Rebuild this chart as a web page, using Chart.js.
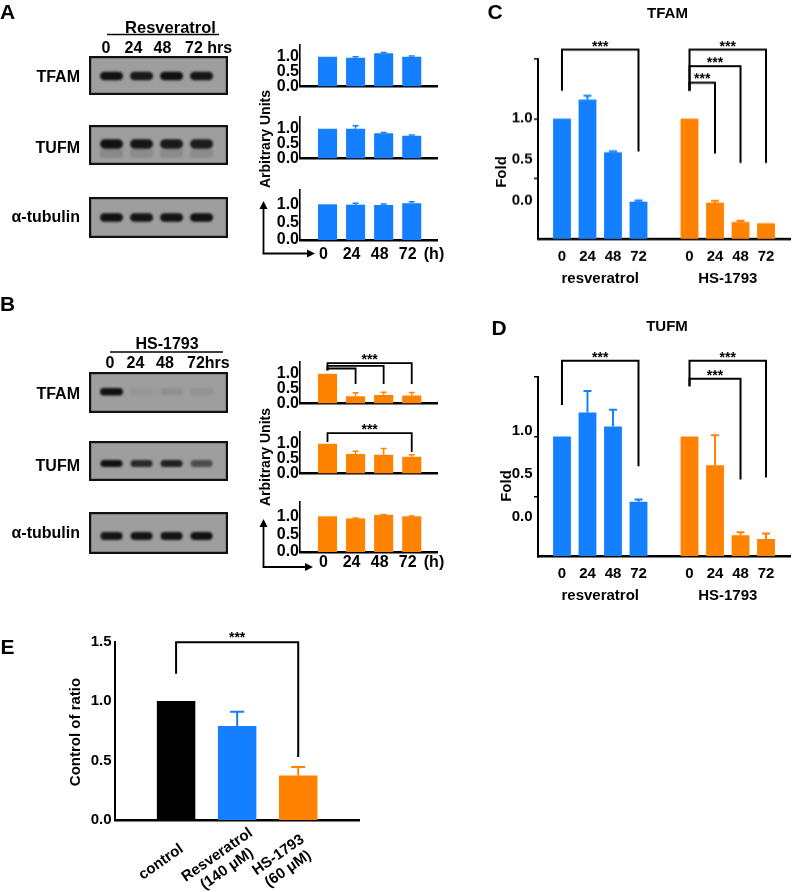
<!DOCTYPE html>
<html>
<head>
<meta charset="utf-8">
<script src="https://cdn.jsdelivr.net/npm/chart.js@4.4.1/dist/chart.umd.min.js"></script>
<style>
  html, body { margin: 0; padding: 0; background: #fff; }
  #fig { position: relative; width: 795px; height: 892px; overflow: hidden;
         font-family: "Liberation Sans", Arial, sans-serif; font-weight: bold; color: #000; }
  #fig canvas { position: absolute; }
  .t { position: absolute; white-space: nowrap; line-height: 1; }
  #lines { position: absolute; left: 0; top: 0; }
</style>
</head>
<body>
<div id="fig">
  <svg id="lines" width="795" height="892"></svg>
</div>
<script>
const FONT = '"Liberation Sans", Arial, sans-serif';
const BLUE = '#1580ff';
const ORANGE = '#ff8200';

// time points (h)
const hours = ['0', '24', '48', '72'];

// A - resveratrol, blot quantification (arbitrary units)
const resTfamAU = [1.0, 0.97, 1.12, 1.0];
const resTfamAUErr = [0, 0.03, 0.03, 0.03];
const resTufmAU = [1.0, 1.0, 0.85, 0.77];
const resTufmAUErr = [0, 0.1, 0.03, 0.02];
const resTubAU = [1.0, 0.99, 0.98, 1.03];
const resTubAUErr = [0, 0.04, 0.03, 0.04];

// B - HS-1793, blot quantification
const hsTfamAU = [1.0, 0.24, 0.28, 0.27];
const hsTfamAUErr = [0, 0.12, 0.1, 0.1];
const hsTufmAU = [1.0, 0.66, 0.63, 0.56];
const hsTufmAUErr = [0, 0.09, 0.21, 0.07];
const hsTubAU = [1.0, 0.94, 1.04, 1.0];
const hsTubAUErr = [0, 0.01, 0.01, 0.01];

// blot band intensities (0..1)
const resTfamBand = [0.95, 0.9, 0.97, 0.92];
const resTufmBand = [0.95, 0.92, 0.9, 0.88];
const resTubBand = [0.95, 0.92, 0.93, 0.95];
const hsTfamBand = [0.95, 0.05, 0.09, 0.08];
const hsTufmBand = [0.95, 0.8, 0.85, 0.55];
const hsTubBand = [0.92, 0.92, 0.93, 0.95];

const smallTicks = [0, 0.5, 1.0];

// C - TFAM fold
const groups = ['resveratrol', 'HS-1793'];
const tfamRes = [1.0, 1.16, 0.72, 0.31];
const tfamResErr = [0, 0.03, 0.01, 0.01];
const tfamHs = [1.0, 0.3, 0.14, 0.13];
const tfamHsErr = [0, 0.015, 0.01, 0];
const tfamTickText = ['1.0', '0.5', '0.0'];
const tfamTickAt = [1.0, 0.66, 0.315];

// D - TUFM fold
const tufmRes = [1.0, 1.2, 1.085, 0.455];
const tufmResErr = [0, 0.18, 0.14, 0.02];
const tufmHs = [1.0, 0.76, 0.175, 0.145];
const tufmHsErr = [0, 0.25, 0.025, 0.045];
const tufmTickText = ['1.0', '0.5', '0.0'];
const tufmTickAt = [1.05, 0.69, 0.33];
const foldAxisTicks = [0.5, 1.0, 1.5];

// E - control of ratio
const eCats = [['control'], ['Resveratrol', '(140 μM)'], ['HS-1793', '(60 μM)']];
const eRatio = [1.0, 0.79, 0.375];
const eRatioErr = [0, 0.12, 0.07];
const eColors = ['#000000', BLUE, ORANGE];
const eYTicks = [0, 0.5, 1.0, 1.5];

const fig = document.getElementById('fig');
const svg = document.getElementById('lines');
Chart.defaults.font.family = FONT;
Chart.defaults.font.weight = 'bold';
Chart.defaults.color = '#000';

function addCanvas(left, top, w, h) {
    const c = document.createElement('canvas');
    c.width = w; c.height = h;
    c.style.left = left + 'px';
    c.style.top = top + 'px';
    c.style.width = w + 'px';
    c.style.height = h + 'px';
    fig.insertBefore(c, svg);
    return c;
}

function label(str, x, y, size, opt = {}) {
    const d = document.createElement('div');
    d.className = 't';
    d.textContent = str;
    d.style.fontSize = size + 'px';
    d.style.left = x + 'px';
    d.style.top = y + 'px';
    const ax = opt.align === 'right' ? '-100%' : opt.align === 'left' ? '0' : '-50%';
    d.style.transform = `translate(${ax}, -50%)` + (opt.rot ? ` rotate(${opt.rot}deg)` : '');
    fig.appendChild(d);
}

function svgEl(tag, attrs) {
    const e = document.createElementNS('http://www.w3.org/2000/svg', tag);
    for (const k in attrs) e.setAttribute(k, attrs[k]);
    svg.appendChild(e);
}
function line(x1, y1, x2, y2, w = 1.6) {
    svgEl('line', { x1, y1, x2, y2, stroke: '#000', 'stroke-width': w });
}
function arrow(cx, cy, tipY, tipX) {
    line(cx, cy, cx, tipY + 7, 1.8);
    line(cx - 0.9, cy, tipX - 7, cy, 1.8);
    svgEl('polygon', { points: `${cx},${tipY} ${cx - 4},${tipY + 8} ${cx + 4},${tipY + 8}`, fill: '#000' });
    svgEl('polygon', { points: `${tipX},${cy} ${tipX - 8},${cy - 4} ${tipX - 8},${cy + 4}`, fill: '#000' });
}

// ---- plugins ----
const errorBars = {
    id: 'errorBars',
    afterDatasetsDraw(chart, args, opts) {
        const { ctx } = chart;
        const y = chart.scales.y;
        chart.data.datasets.forEach((ds, di) => {
            if (!ds.errors) return;
            const meta = chart.getDatasetMeta(di);
            meta.data.forEach((bar, i) => {
                const err = ds.errors[i];
                if (!err) return;
                const yTop = y.getPixelForValue(ds.data[i].y + err);
                const col = Array.isArray(ds.backgroundColor) ? ds.backgroundColor[i] : ds.backgroundColor;
                ctx.save();
                ctx.strokeStyle = col;
                ctx.lineWidth = opts.width || 2;
                ctx.beginPath();
                ctx.moveTo(bar.x, bar.y);
                ctx.lineTo(bar.x, yTop);
                ctx.moveTo(bar.x - opts.cap, yTop);
                ctx.lineTo(bar.x + opts.cap, yTop);
                ctx.stroke();
                ctx.restore();
            });
        });
    }
};

const brackets = {
    id: 'brackets',
    afterDraw(chart, args, opts) {
        if (!opts.items || !opts.items.length) return;
        const { ctx, scales: { x, y } } = chart;
        ctx.save();
        ctx.strokeStyle = '#000';
        ctx.lineWidth = opts.lineWidth || 2;
        ctx.font = `bold ${opts.starSize || 14}px ${FONT}`;
        ctx.fillStyle = '#000';
        ctx.textAlign = 'center';
        ctx.textBaseline = 'alphabetic';
        opts.items.forEach(b => {
            const x1 = x.getPixelForValue(b.from), x2 = x.getPixelForValue(b.to);
            const yt = y.getPixelForValue(b.top);
            ctx.beginPath();
            ctx.moveTo(x1, y.getPixelForValue(b.left));
            ctx.lineTo(x1, yt);
            ctx.lineTo(x2, yt);
            ctx.lineTo(x2, y.getPixelForValue(b.right));
            ctx.stroke();
            if (b.star !== false) ctx.fillText('***', (x1 + x2) / 2, yt + (opts.starLift ?? 2));
        });
        ctx.restore();
    }
};

const groupLabels = {
    id: 'groupLabels',
    afterDraw(chart, args, opts) {
        if (!opts.items) return;
        const { ctx, scales: { x } } = chart;
        ctx.save();
        ctx.font = `bold 15px ${FONT}`;
        ctx.textAlign = 'center';
        ctx.textBaseline = 'middle';
        ctx.fillStyle = '#000';
        opts.items.forEach(g => ctx.fillText(g.text, x.getPixelForValue(g.at), chart.chartArea.bottom + opts.offset));
        ctx.restore();
    }
};

const slantLabels = {
    id: 'slantLabels',
    afterDraw(chart, args, opts) {
        if (!opts.labels) return;
        const { ctx, scales: { x } } = chart;
        ctx.save();
        ctx.font = `bold 15px ${FONT}`;
        ctx.textAlign = 'center';
        ctx.textBaseline = 'middle';
        ctx.fillStyle = '#000';
        opts.labels.forEach((lines, i) => {
            ctx.save();
            ctx.translate(x.getPixelForValue(i) + opts.dx, chart.chartArea.bottom + opts.dy);
            ctx.rotate(-opts.angle * Math.PI / 180);
            lines.forEach((ln, k) => ctx.fillText(ln, 0, (k - (lines.length - 1) / 2) * opts.lineHeight));
            ctx.restore();
        });
        ctx.restore();
    }
};

const blotPlugin = {
    id: 'blot',
    beforeDatasetsDraw(chart, args, opts) {
        const { ctx, chartArea: a } = chart;
        ctx.save();
        ctx.fillStyle = opts.bg;
        ctx.fillRect(a.left, a.top, a.width, a.height);
        const meta = chart.getDatasetMeta(0);
        const vals = chart.data.datasets[0].data;
        const cy = a.top + a.height * opts.yFrac;
        ctx.filter = 'blur(1.3px)';
        meta.data.forEach((el, i) => {
            const v = vals[i].y;
            if (opts.smear) {
                ctx.fillStyle = `rgba(40,40,40,${0.18 * v})`;
                ctx.beginPath();
                ctx.roundRect(el.x - opts.w / 2, cy + opts.h / 2, opts.w, opts.smear, 3);
                ctx.fill();
            }
            ctx.fillStyle = `rgba(10,10,10,${v})`;
            ctx.beginPath();
            ctx.roundRect(el.x - opts.w / 2, cy - opts.h / 2, opts.w, opts.h, opts.h / 2);
            ctx.fill();
        });
        ctx.filter = 'none';
        ctx.lineWidth = 2.2;
        ctx.strokeStyle = '#111';
        ctx.strokeRect(a.left + 1.1, a.top + 1.1, a.width - 2.2, a.height - 2.2);
        ctx.restore();
    }
};

// ---- blots ----
function blot(top, h, bands, look) {
    const cv = addCanvas(89, top, 139, h);
    new Chart(cv, {
        type: 'bar',
        data: { datasets: [{ data: bands.map((v, i) => ({ x: i, y: v })), backgroundColor: 'rgba(0,0,0,0)' }] },
        options: {
            responsive: false, animation: false, events: [],
            layout: { padding: 0 },
            plugins: { legend: { display: false }, tooltip: { enabled: false }, blot: Object.assign({ bg: '#9e9e9e' }, look) },
            scales: {
                x: { type: 'linear', display: false, offset: false, min: -0.75, max: 3.88,
                     afterBuildTicks: s => { s.ticks = bands.map((_, i) => ({ value: i })); } },
                y: { display: false, min: 0, max: 1 }
            }
        },
        plugins: [blotPlugin]
    });
}

// ---- small quantification bars (A, B) ----
function smallBars(bottom, values, errs, color, opt = {}) {
    const padTop = 14, plotH = 50;
    const showX = opt.xPad != null;
    const xH = showX ? 30 : 2;
    const cv = addCanvas(250, bottom - plotH - padTop, 195, padTop + plotH + xH);
    new Chart(cv, {
        type: 'bar',
        data: { datasets: [{ data: values.map((v, i) => ({ x: i, y: v })), errors: errs, backgroundColor: color,
                             barPercentage: 0.68, categoryPercentage: 1 }] },
        options: {
            responsive: false, animation: false, events: [],
            layout: { padding: { top: padTop, right: 8, left: 0, bottom: 0 } },
            plugins: {
                legend: { display: false }, tooltip: { enabled: false },
                errorBars: { cap: 3, width: 1.5 },
                brackets: { items: opt.sig || [], lineWidth: 1.8, starSize: 14, starLift: 1 }
            },
            scales: {
                x: { type: 'linear', offset: false, min: -0.98, max: 3.9,
                     afterBuildTicks: s => { s.ticks = hours.map((_, i) => ({ value: i })); },
                     afterFit: s => { s.height = xH; },
                     grid: { display: false, drawTicks: false },
                     border: { color: '#000', width: 2.5 },
                     ticks: { display: showX, padding: opt.xPad || 0, labelOffset: -4, font: { size: 16, weight: 'bold' },
                              autoSkip: false, maxRotation: 0, callback: v => hours[v] } },
                y: { min: 0, max: 1.4,
                     afterBuildTicks: s => { s.ticks = smallTicks.map(v => ({ value: v })); },
                     afterFit: s => { s.width = 50; },
                     grid: { display: false, drawTicks: false },
                     border: { color: '#000', width: 1.6 },
                     ticks: { padding: 1, autoSkip: false, font: { size: 16, weight: 'bold' }, callback: v => v.toFixed(1) } }
            }
        },
        plugins: [errorBars, brackets]
    });
}

// ---- fold charts (C, D) ----
function foldChart(cvTop, padTop, xH, res, resErr, hs, hsErr, tickAt, tickText, sig) {
    const gap = hours.length + 1;
    const xIdx = [...hours.map((_, i) => i), ...hours.map((_, i) => i + gap)];
    const yTicks = [...new Set([...foldAxisTicks, ...tickAt])];
    const cv = addCanvas(490, cvTop, 305, padTop + 180 + xH);
    new Chart(cv, {
        type: 'bar',
        data: { datasets: [
            { data: res.map((v, i) => ({ x: i, y: v })), errors: resErr, backgroundColor: BLUE,
              grouped: false, barPercentage: 0.7, categoryPercentage: 1 },
            { data: hs.map((v, i) => ({ x: i + gap, y: v })), errors: hsErr, backgroundColor: ORANGE,
              grouped: false, barPercentage: 0.7, categoryPercentage: 1 }
        ] },
        options: {
            responsive: false, animation: false, events: [],
            layout: { padding: { top: padTop, right: 5, left: 0, bottom: 0 } },
            plugins: {
                legend: { display: false }, tooltip: { enabled: false },
                errorBars: { cap: 4, width: 2 },
                brackets: { items: sig, lineWidth: 2, starSize: 14, starLift: 1 },
                groupLabels: { offset: 39.5, items: groups.map((g, k) => ({ text: g, at: k * gap + (hours.length - 1) / 2 })) }
            },
            scales: {
                x: { type: 'linear', offset: false, min: -0.94, max: 8.94,
                     afterBuildTicks: s => { s.ticks = xIdx.map(v => ({ value: v })); },
                     afterFit: s => { s.height = xH; },
                     grid: { display: false, drawTicks: false },
                     border: { color: '#000', width: 2.5 },
                     ticks: { padding: 8.5, font: { size: 15, weight: 'bold' }, autoSkip: false, maxRotation: 0,
                              callback: v => hours[v % gap] } },
                y: { min: 0, max: 1.5,
                     afterBuildTicks: s => { s.ticks = yTicks.map(v => ({ value: v })); },
                     afterFit: s => { s.width = 48; },
                     grid: { display: true, drawOnChartArea: false, drawTicks: true, tickLength: 4, lineWidth: 1.5,
                             color: c => foldAxisTicks.includes(c.tick && c.tick.value) ? '#000' : 'rgba(0,0,0,0)' },
                     border: { color: '#000', width: 2 },
                     ticks: { padding: 1.5, autoSkip: false, font: { size: 15, weight: 'bold' },
                              callback: v => { const k = tickAt.indexOf(v); return k >= 0 ? tickText[k] : ''; } } }
            }
        },
        plugins: [errorBars, brackets, groupLabels]
    });
}

// ---- E ----
function ratioChart() {
    const cv = addCanvas(40, 615, 330, 277);
    new Chart(cv, {
        type: 'bar',
        data: { datasets: [{ data: eRatio.map((v, i) => ({ x: i, y: v })), errors: eRatioErr, backgroundColor: eColors,
                             barPercentage: 0.63, categoryPercentage: 1 }] },
        options: {
            responsive: false, animation: false, events: [],
            layout: { padding: { top: 26.5, right: 10.7, left: 0, bottom: 0 } },
            plugins: {
                legend: { display: false }, tooltip: { enabled: false },
                errorBars: { cap: 7, width: 2 },
                brackets: { items: [{ from: 0, to: 2, top: 1.494, left: 1.23, right: 0.53 }], lineWidth: 2, starSize: 14, starLift: 0 },
                slantLabels: { labels: eCats, dx: -15, dy: 42, angle: 35, lineHeight: 17 }
            },
            scales: {
                x: { type: 'linear', offset: false, min: -1, max: 3,
                     afterBuildTicks: s => { s.ticks = eCats.map((_, i) => ({ value: i })); },
                     afterFit: s => { s.height = 72; },
                     grid: { display: false, drawTicks: false },
                     border: { color: '#000', width: 2.5 },
                     ticks: { display: false } },
                y: { min: 0, max: 1.5,
                     afterBuildTicks: s => { s.ticks = eYTicks.map(v => ({ value: v })); },
                     afterFit: s => { s.width = 75; },
                     grid: { display: false, drawTicks: false },
                     border: { color: '#000', width: 2 },
                     ticks: { padding: 3.5, autoSkip: false, font: { size: 15, weight: 'bold' }, callback: v => v.toFixed(1) } }
            }
        },
        plugins: [errorBars, brackets, slantLabels]
    });
}

// ---- build ----
// A blots
blot(56, 39, resTfamBand, { yFrac: 0.51, w: 23, h: 8.5 });
blot(125, 40, resTufmBand, { yFrac: 0.475, w: 23, h: 9.5, smear: 9 });
blot(197, 41, resTubBand, { yFrac: 0.5, w: 23, h: 8.5 });
// B blots
blot(372, 41, hsTfamBand, { yFrac: 0.48, w: 23, h: 7.5 });
blot(441, 40, hsTufmBand, { yFrac: 0.56, w: 22, h: 7 });
blot(512, 42, hsTubBand, { yFrac: 0.57, w: 22, h: 8 });

// A bars
smallBars(95, resTfamAU, resTfamAUErr, BLUE);
smallBars(167, resTufmAU, resTufmAUErr, BLUE);
smallBars(239.5, resTubAU, resTubAUErr, BLUE, { xPad: 4.5 });
// B bars
smallBars(412, hsTfamAU, hsTfamAUErr, ORANGE, { sig: [
    { from: 0, to: 3, top: 1.36, left: 1.12, right: 0.66 },
    { from: 0, to: 2, top: 1.27, left: 1.12, right: 0.66, star: false },
    { from: 0, to: 1, top: 1.18, left: 1.12, right: 0.66, star: false }
] });
smallBars(482, hsTufmAU, hsTufmAUErr, ORANGE, { sig: [
    { from: 0, to: 3, top: 1.36, left: 1.06, right: 0.72 }
] });
smallBars(552, hsTubAU, hsTubAUErr, ORANGE, { xPad: 0.5 });

// C, D
foldChart(30, 28.5, 60, tfamRes, tfamResErr, tfamHs, tfamHsErr, tfamTickAt, tfamTickText, [
    { from: 0, to: 3, top: 1.575, left: 1.233, right: 0.726 },
    { from: 5, to: 8, top: 1.575, left: 1.233, right: 0.63 },
    { from: 5, to: 7, top: 1.438, left: 1.233, right: 0.63 },
    { from: 5, to: 6, top: 1.30, left: 1.233, right: 0.71 }
]);
foldChart(345, 31.7, 61.7, tufmRes, tufmResErr, tufmHs, tufmHsErr, tufmTickAt, tufmTickText, [
    { from: 0, to: 3, top: 1.633, left: 1.264, right: 0.753 },
    { from: 5, to: 8, top: 1.633, left: 1.42, right: 0.659 },
    { from: 5, to: 7, top: 1.483, left: 1.42, right: 0.642 }
]);

ratioChart();

// ---- text and decorations ----
label('A', 7.5, 11, 21);
label('B', 7.5, 302.5, 21);
label('C', 495, 10.5, 21);
label('D', 499, 327, 21);
label('E', 7.5, 645.5, 21);

label('Resveratrol', 170.5, 26.5, 16.5);
line(107, 34.5, 219, 34.5);
label('0', 106, 47.5, 16); label('24', 133.5, 47.5, 16); label('48', 162.5, 47.5, 16);
label('72 hrs', 185, 47.5, 16, { align: 'left' });

label('HS-1793', 167, 343.5, 16);
line(110, 352, 223, 352);
label('0', 110, 362.5, 16); label('24', 135.5, 362.5, 16); label('48', 165, 362.5, 16);
label('72hrs', 187, 362.5, 16, { align: 'left' });

label('TFAM', 80, 76.5, 16, { align: 'right' });
label('TUFM', 80, 148, 16, { align: 'right' });
label('α-tubulin', 80, 216.5, 16, { align: 'right' });
label('TFAM', 80, 394, 16, { align: 'right' });
label('TUFM', 80, 465.5, 16, { align: 'right' });
label('α-tubulin', 80, 533, 16, { align: 'right' });

label('Arbitrary Units', 265, 139, 14, { rot: -90 });
label('Arbitrary Units', 265, 457, 14, { rot: -90 });
label('(h)', 434, 253.5, 16);
label('(h)', 434, 562, 16);
arrow(263.5, 253.5, 201, 315);
arrow(263.5, 567, 519, 313);

label('TFAM', 667.5, 11.7, 15);
label('TUFM', 667, 325, 15);
label('Fold', 500, 172, 15, { rot: -90 });
label('Fold', 505, 486, 15, { rot: -90 });
label('Control of ratio', 74, 732, 15, { rot: -90 });
</script>
</body>
</html>
